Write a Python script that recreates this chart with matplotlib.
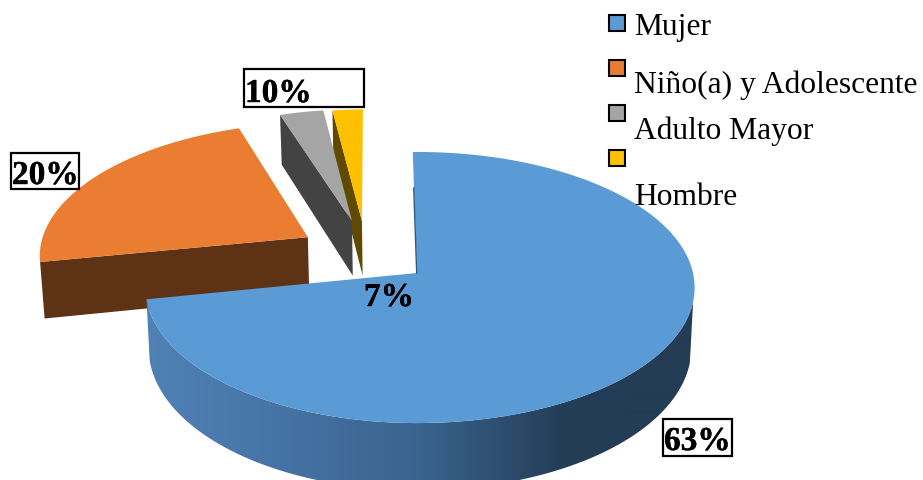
import numpy as np
import matplotlib
matplotlib.use("Agg")
import matplotlib.pyplot as plt
import matplotlib.patheffects as pe
from matplotlib.patches import Rectangle, Polygon

# Data
categories = ["Mujer", "Niño(a) y Adolescente", "Adulto Mayor", "Hombre"]
slice_shares = [72.2, 22.8, 2.95, 2.05]          # drawn slice sizes, as measured
printed_labels = ["63%", "20%", "10%", "7%"]     # labels as printed on the chart

# Styles and layout
top_colors = ["#5B9BD5", "#EB7D32", "#A5A5A5", "#FFC000"]
wall_colors = [None, "#5E3214", "#434343", "#5F4A00"]
explode = [(0, 0), (-0.4115, -0.275), (-0.2485, -0.405), (-0.2104, -0.405)]
wall_depth = [60, 57, 57, 57]
left_radius = [270, 273, 273, 273]
START_DEG = -1.0
CX, CY, A_R, B, K, SHRINK = 417, 274, 276, 134, 0.107, 0.988
label_boxes = [(663, 420, 69, 37), (11, 154, 68, 36), (244, 70, 120, 38), None]
label_pos = [(664, 451), (12, 185), (245, 103), (364, 307)]
legend_boxes_y = [16, 61, 106, 151]
legend_base_y = [35, 93, 139, 205]

plt.rcParams["font.family"] = ["Liberation Serif", "DejaVu Serif"]
fig = plt.figure(figsize=(9.23, 4.81), dpi=100)
ax = fig.add_axes([0, 0, 1, 1])
ax.axis("off")


def project(X, Y, a_l):
    X, Y = np.asarray(X, float), np.asarray(Y, float)
    s = 1 / (1 - K * Y)
    return CX + np.where(X < 0, a_l, A_R) * X * s, CY + B * Y * s


def drop(X, Y, h, a_l):
    Y = np.asarray(Y, float)
    s = 1 / (1 - K * Y)
    x, y = project(X, Y, a_l)
    return CX + (x - CX) * SHRINK, y + h * s


# horizontal gradient for the blue wall
grad_x = np.array([146, 280, 420, 560, 695])
grad_rgb = np.array([[80, 130, 182], [70, 115, 165], [58, 100, 142],
                     [36, 62, 88], [36, 60, 84]]) / 255
xx = np.linspace(140, 700, 560)
grad = np.stack([np.interp(xx, grad_x, grad_rgb[:, c]) for c in range(3)], axis=-1)[None, :, :]

edges = np.radians(START_DEG) + np.cumsum([0] + slice_shares) / sum(slice_shares) * 2 * np.pi
# painter's order: orange, yellow, gray, blue
for i in [1, 3, 2, 0]:
    a0, a1 = edges[i], edges[i + 1]
    t = np.linspace(a0, a1, 400)
    ox, oy = explode[i]
    X = ox + np.sin(t)
    Y = oy - np.cos(t)
    al = left_radius[i]
    if i == 0:
        vis = t >= np.pi / 2 + 0.2
        xs, ys = project(X[vis], Y[vis], al)
        xb, yb = drop(X[vis], Y[vis], wall_depth[i], al)
        wall = Polygon(np.c_[np.r_[xs, xb[::-1]], np.r_[ys, yb[::-1]]], closed=True,
                       transform=ax.transData, fc="none", ec="none")
        ax.add_patch(wall)
        im = ax.imshow(grad, extent=(140, 700, 490, 250), aspect="auto", zorder=5,
                       interpolation="bilinear")
        im.set_clip_path(wall)
    else:
        # wall under the slice edge that faces the viewer
        ex, ey = ox + np.sin(a0), oy - np.cos(a0)
        px, py = np.array([ex, ox]), np.array([ey, oy])
        xs, ys = project(px, py, al)
        xb, yb = drop(px, py, wall_depth[i], al)
        ax.fill([xs[0], xs[1], xb[1], xb[0]], [ys[0], ys[1], yb[1], yb[0]],
                color=wall_colors[i], lw=0, zorder=2 + (i == 1))
    x, y = project(np.r_[ox, X], np.r_[oy, Y], al)
    ax.fill(x, y, color=top_colors[i], lw=0, zorder=6 if i == 0 else 3 + (i == 1))

# thin dark sliver along the blue slice's first edge
sx = np.sin(edges[0]) * np.array([0.68, 0.0])
sy = -np.cos(edges[0]) * np.array([0.68, 0.0])
px_s, py_s = project(sx, sy, left_radius[0])
ax.plot(px_s - 0.3, py_s, color="#2F5B80", lw=1.0, zorder=7)

# labels
for text, pos, box in zip(printed_labels, label_pos, label_boxes):
    if box:
        ax.add_patch(Rectangle(box[:2], box[2], box[3], fc="white", ec="black",
                               lw=1.6, zorder=8))
    ax.text(pos[0], pos[1], text, fontsize=24, fontweight="bold",
            va="baseline", ha="left", color="black", zorder=9,
            path_effects=[pe.withStroke(linewidth=0.3, foreground="black")])

# legend
for name, color, by, ty in zip(categories, top_colors, legend_boxes_y, legend_base_y):
    ax.add_patch(Rectangle((609, by), 16, 16, fc=color, ec="black", lw=1.5, zorder=8))
    ax.text(634, ty, name, fontsize=22.7, va="baseline", ha="left", color="black", zorder=9)

ax.set_xlim(0, 923)
ax.set_ylim(481, 0)
fig.savefig("out.png", dpi=100)
